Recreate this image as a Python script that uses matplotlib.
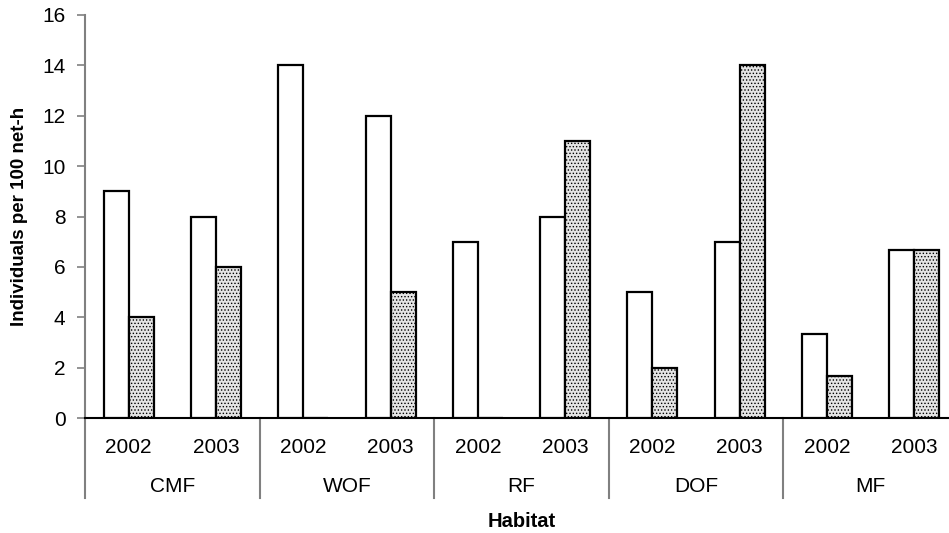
import numpy as np
import matplotlib
matplotlib.use("Agg")
import matplotlib.pyplot as plt
import matplotlib.transforms as mtransforms

plt.rcParams["font.family"] = ["Liberation Sans", "DejaVu Sans"]
plt.rcParams["hatch.linewidth"] = 0.6

habitats = ["CMF", "WOF", "RF", "DOF", "MF"]
years = ["2002", "2003"]
open_vals = [9, 8, 14, 12, 7, 8, 5, 7, 3.33, 6.67]
dotted_vals = [4, 6, 0, 5, 0, 11, 2, 14, 1.67, 6.67]


def clean_axes(ax):
    ax.spines["right"].set_color("none")
    ax.spines["top"].set_color("none")
    ax.spines["left"].set_color("#808080")
    ax.spines["left"].set_linewidth(1.5)
    ax.spines["bottom"].set_color("black")
    ax.spines["bottom"].set_linewidth(1.5)


fig = plt.figure(figsize=(9.49, 5.33), dpi=100)
ax = fig.add_axes([85 / 949, 115 / 533, 873 / 949, 403 / 533])

x = np.arange(len(open_vals))
w = 0.286
ax.bar(x - w / 2, open_vals, w, color="white", edgecolor="black",
       linewidth=1.6, zorder=3)
ax.bar(x + w / 2, dotted_vals, w, color="#e4e4e4", edgecolor="black",
       linewidth=1.6, hatch=".....", zorder=3)

ax.set_xlim(-0.5, len(x) - 0.5)
ax.set_ylim(0, 16)
ax.set_yticks(range(0, 17, 2))
ax.tick_params(axis="y", direction="out", length=6, width=1.2,
               color="#808080", labelsize=15, pad=8)
ax.set_xticks([])
clean_axes(ax)

trans = mtransforms.blended_transform_factory(ax.transData, ax.transAxes)
for i in x:
    ax.text(i, -0.072, years[i % 2], transform=trans, ha="center",
            va="center", fontsize=15)
for j, h in enumerate(habitats):
    ax.text(2 * j + 0.5, -0.171, h, transform=trans, ha="center",
            va="center", fontsize=15)
for b in np.arange(-0.5, len(x), 2):
    ax.plot([b, b], [0, -0.1985], transform=trans, color="#808080",
            linewidth=1.5, clip_on=False)

ax.text(0.5, -0.257, "Habitat", transform=ax.transAxes, ha="center",
        va="center", fontsize=14.5, fontweight="bold")
ax.set_ylabel("Individuals per 100 net-h", fontsize=13.5,
              fontweight="bold", labelpad=10)

fig.savefig("out.png", dpi=100)
plt.close(fig)
